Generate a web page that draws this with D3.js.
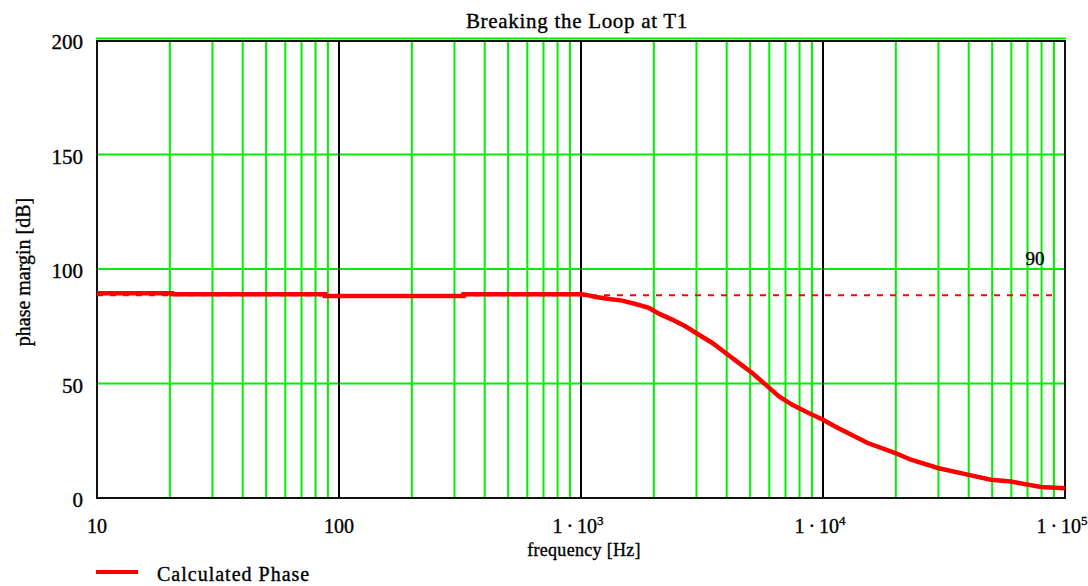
<!DOCTYPE html>
<html>
<head>
<meta charset="utf-8">
<script src="https://cdn.jsdelivr.net/npm/d3@7"></script>
<style>
  html, body { margin: 0; padding: 0; background: #fff; }
  svg { display: block; }
  text { font-family: "Liberation Serif", "Times New Roman", serif; fill: #000; stroke: #000; stroke-width: 0.35; }
</style>
</head>
<body>
<svg id="chart" width="1088" height="586"></svg>
<script>
// Loop-gain phase margin, loop broken at T1
const frequency = [10, 20.4, 20.4, 87.5, 87.5, 327, 327, 1000, 1040, 1150, 1310, 1480, 1680, 1910,
  2100, 2380, 2710, 3070, 3490, 3960, 4500, 5100, 5790, 6580, 7470, 8470, 10000,
  11170, 13100, 15300, 19800, 23100, 29800, 39600, 49400, 59800, 79600, 100000];
const phase = [89.4, 89.4, 89.0, 89.0, 88.2, 88.2, 89.0, 89.0, 88.8, 87.8, 86.9, 86.2, 84.7, 83.0,
  80.5, 77.9, 74.9, 71.3, 67.7, 63.3, 58.9, 54.6, 49.5, 44.4, 40.7, 37.8, 34.2,
  31.3, 27.6, 24.0, 19.7, 16.7, 13.1, 10.2, 8.0, 7.2, 4.8, 4.3];

const markerValue = 88.5;               // horizontal marker line
const yTicks = [0, 50, 100, 150, 200];
const xMajor = [10, 100, 1000, 10000, 100000];
const xTickText = [["10", ""], ["100", ""], ["1\u2009\u00b7\u200910", "3"], ["1\u2009\u00b7\u200910", "4"], ["1\u2009\u00b7\u200910", "5"]];
const titleText = "Breaking the Loop at T1";
const xTitle = "frequency [Hz]";
const yTitle = "phase margin [dB]";
const legendLabel = "Calculated Phase";

const svg = d3.select("#chart");
const plotL = 97, plotR = 1065, plotT = 40, plotB = 498;

const x = d3.scaleLog().domain([10, 1e5]).range([plotL, plotR]);
const y = d3.scaleLinear().domain([0, 200]).range([plotB, plotT]);

const green = "#00f000", red = "#ff0000";

// minor vertical grid (2..9 in each decade)
const minor = [];
for (let d = 0; d < 4; d++) for (let m = 2; m <= 9; m++) minor.push(m * Math.pow(10, d + 1));
svg.append("g").selectAll("line").data(minor).join("line")
  .attr("x1", d => x(d)).attr("x2", d => x(d))
  .attr("y1", plotT).attr("y2", plotB)
  .attr("stroke", green).attr("stroke-width", 2);

// horizontal grid
svg.append("g").selectAll("line").data(yTicks.filter(v => v > 0 && v < 200)).join("line")
  .attr("x1", plotL).attr("x2", plotR)
  .attr("y1", d => y(d)).attr("y2", d => y(d))
  .attr("stroke", green).attr("stroke-width", 2);

// decade lines
svg.append("g").selectAll("line").data(xMajor.slice(1, -1)).join("line")
  .attr("x1", d => x(d)).attr("x2", d => x(d))
  .attr("y1", plotT).attr("y2", plotB)
  .attr("stroke", "#000").attr("stroke-width", 2);

// frame
svg.append("rect").attr("x", plotL).attr("y", plotT + 1)
  .attr("width", plotR - plotL).attr("height", plotB - plotT - 1)
  .attr("fill", "none").attr("stroke", "#111").attr("stroke-width", 2);
svg.append("line").attr("x1", plotL - 1).attr("x2", plotR + 1)
  .attr("y1", y(200) - 1.5).attr("y2", y(200) - 1.5)
  .attr("stroke", green).attr("stroke-width", 2);

// marker line
svg.append("line").attr("x1", plotL).attr("x2", plotR - 6)
  .attr("y1", y(markerValue)).attr("y2", y(markerValue))
  .attr("stroke", red).attr("stroke-width", 2).attr("stroke-dasharray", "6,7");
svg.append("text").attr("x", x(1e5) - 30).attr("y", y(100) - 4)
  .attr("text-anchor", "middle").attr("font-size", 19)
  .text(d3.format(".1r")(markerValue));

// phase curve
const pts = frequency.map((f, i) => [f, phase[i]]);
svg.append("path").datum(pts)
  .attr("fill", "none").attr("stroke", red).attr("stroke-width", 4.5)
  .attr("stroke-linejoin", "miter")
  .attr("d", d3.line().x(d => x(d[0])).y(d => y(d[1])));

// y tick labels
svg.append("g").selectAll("text").data(yTicks).join("text")
  .attr("x", 83).attr("y", d => y(d) + 9)
  .attr("text-anchor", "end").attr("font-size", 21)
  .text(d => d);

// x tick labels
const xl = svg.append("g").selectAll("text").data(xMajor).join("text")
  .attr("x", (d, i) => x(d) - (xTickText[i][1] ? 3 : 0)).attr("y", 533)
  .attr("text-anchor", "middle").attr("font-size", 20);
xl.each(function (d, i) {
  const t = d3.select(this);
  t.append("tspan").text(xTickText[i][0]);
  if (xTickText[i][1]) t.append("tspan").attr("dy", -8).attr("font-size", 13).text(xTickText[i][1]);
});

// titles
svg.append("text").attr("x", 577).attr("y", 28).attr("text-anchor", "middle")
  .attr("font-size", 21).attr("letter-spacing", 0.7).text(titleText);
svg.append("text").attr("x", 584).attr("y", 556).attr("text-anchor", "middle")
  .attr("font-size", 18).attr("letter-spacing", 0.3).text(xTitle);
svg.append("text").attr("transform", "translate(30,272) rotate(-90)")
  .attr("text-anchor", "middle").attr("font-size", 20).text(yTitle);

// legend
svg.append("line").attr("x1", 96).attr("x2", 138).attr("y1", 572).attr("y2", 572)
  .attr("stroke", red).attr("stroke-width", 4);
svg.append("text").attr("x", 157).attr("y", 581).attr("font-size", 20)
  .attr("letter-spacing", 1).text(legendLabel);
</script>
</body>
</html>
